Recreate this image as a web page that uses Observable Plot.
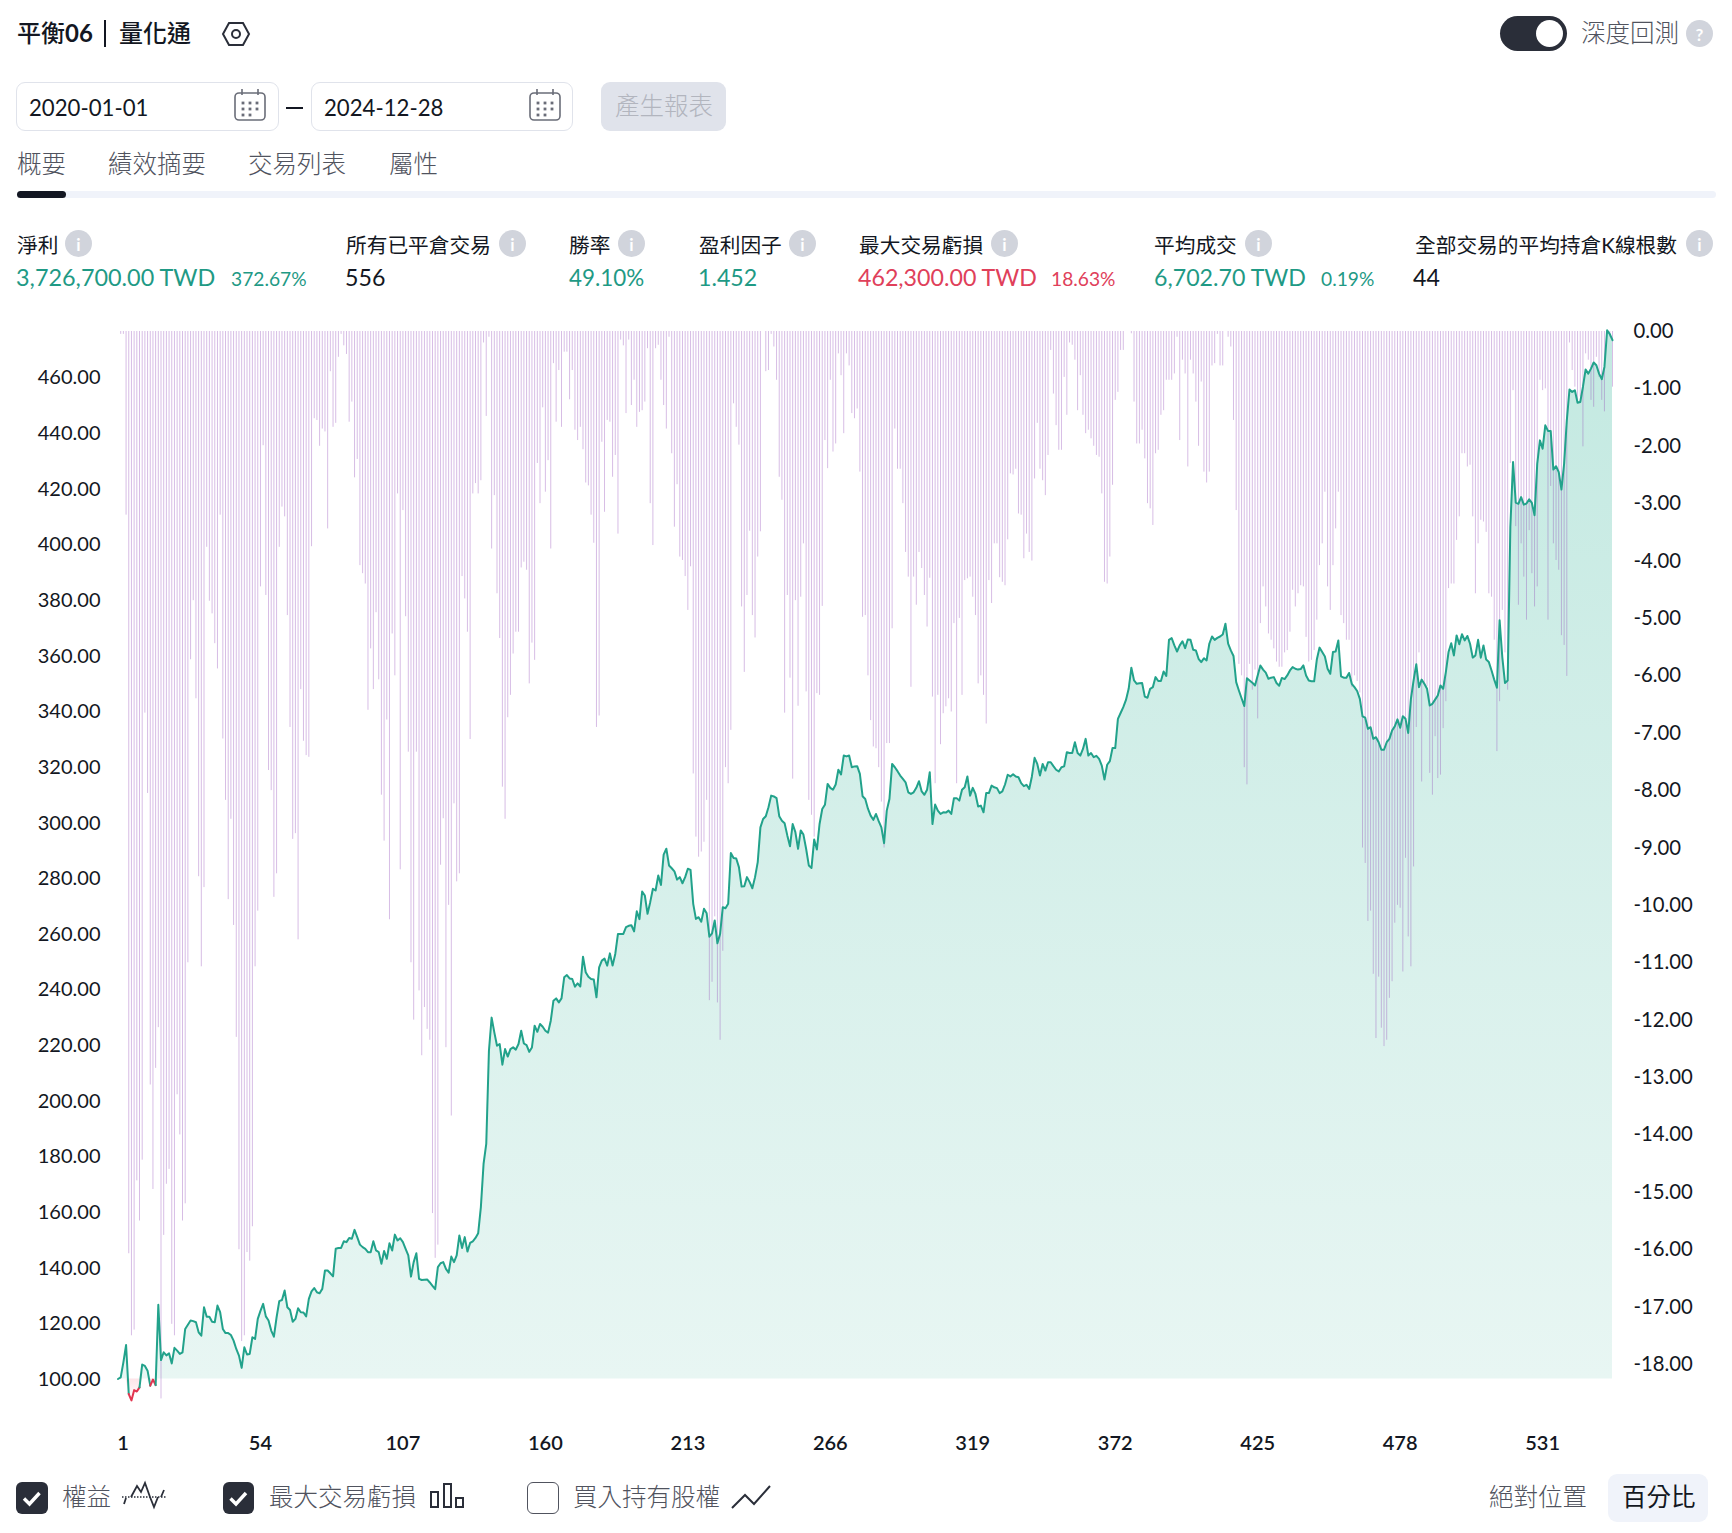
<!DOCTYPE html>
<html lang="zh-Hant">
<head>
<meta charset="utf-8">
<script src="https://cdn.jsdelivr.net/npm/d3@7"></script>
<script src="https://cdn.jsdelivr.net/npm/@observablehq/plot@0.6"></script>
<style>
html,body{margin:0;padding:0;background:#fff}
#page{position:relative;width:1732px;height:1533px;overflow:hidden;background:#fff;font-family:Lato,"Noto Sans CJK TC",sans-serif;color:#131722}
#page .t{position:absolute;white-space:nowrap;line-height:1;transform:translateY(-50%)}
#page .b{position:absolute;box-sizing:border-box}
#page svg.ic{position:absolute;overflow:visible}
#page svg.layer{position:absolute;left:0;top:300px;background:transparent;max-width:none}
</style>
</head>
<body>
<div id="page"></div>
<script>
const equity = [
100,100.6,106,112.2,94.6,92.3,96,95.5,97,105.2,
104.7,103,97.6,99.8,97.8,126.7,106.8,109.6,108.5,109.2,
105.6,111.2,110.2,109,109.6,118,119.5,121,120.8,120.4,
116.8,115.6,125.8,122.4,122.4,120.6,120.4,126.4,124,118,
116.5,116.5,115.8,113.8,110.8,108.4,104,111.4,108.8,109,
115,114.4,121.6,124.5,127,122.5,121,117.4,115.2,122.2,
128,128.4,131.8,125.8,124.8,120.6,121.6,125.4,124,123.9,
122.5,128.8,131.5,132.7,131.2,130.8,132.4,139,139,138,
136.9,146.8,147.1,147.1,149.5,149.2,150.7,150.4,153.6,151,
148.3,147.4,146.8,145.6,145.6,149.5,146.2,145.6,141.4,146,
143.2,148.8,146.2,151.9,149.8,150.6,149.2,146.8,144.4,136.8,
142,145.2,136,135.6,135.7,135.8,134.7,133.5,132.3,140.2,
141.6,142,139.6,138.2,144,142,144.4,151.6,147.1,151,
145.8,148.9,149.5,150.7,152.4,161.8,177.3,184.5,218,229.9,
224.6,219.8,220.4,213,218.6,215.9,218.6,219.2,218.4,220.4,
225.2,220.6,220,217.6,219.2,227,224.8,227.6,226.6,225.2,
224.5,228.8,236,236.8,235.4,236.8,244.4,245.2,244,243.8,
241,242.2,241.1,251.8,246.2,244.6,243.8,243.6,237.2,248,
250.4,251.1,248.6,253,248.6,252.8,260,260,260,262.4,
262.9,263.1,260.9,268.1,265.3,275.2,273.8,267.2,271.4,276.2,
275.6,281,277.6,288.5,290.6,284.6,283.6,282.5,279.5,280.4,
278.2,280.4,283.4,283,270.8,265.4,266,264.4,269,267.4,
259,260.2,264.8,256.6,260,269.6,269.2,270.8,289.1,287.3,
287.1,284,277,277.1,280.4,278.6,276.4,280.4,285.8,298.3,
301.3,302.3,305.5,309.7,309.4,308.8,302.3,300.7,299.8,295.4,
291.5,299.5,296.6,290.6,297.2,295.7,290.6,284.6,283.7,293.9,
290.3,299.5,304.9,306.4,313.9,312.5,311.8,313.7,319,317.3,
324.1,323.8,324.1,319.9,320.2,320.3,317.5,309.5,308.5,305,
302.5,301,303.1,300.5,298.3,292.6,304.3,308.5,321.1,319.9,
318.5,316.9,315.7,314.5,310.9,310.3,310.9,312.5,314.9,311.2,
310,311.8,318.1,299.5,306.5,304.3,303.1,303.7,303.6,304.3,
303.1,308.8,308.8,307.9,311.8,312.7,316.6,309.7,312.5,310.3,
305.8,306.1,303.7,310.6,310.6,313.3,312.7,312.4,310.6,311.2,
313.7,317.2,316.6,317.4,316.6,316.3,314.2,313.1,313.6,312.1,
316.6,323.3,321.1,316.9,321.1,318.7,321.7,321.7,320.3,319,
318.4,319.9,320.2,325.3,325,325,328.9,325,324.1,326.5,
330.1,324.1,325,323.5,324,322.9,320.5,315.5,320.8,322.1,
326.8,326.8,337.3,339.4,341.5,344.1,348.1,355.7,351.1,349.9,
350.1,350.2,345.3,344.9,348.1,348.7,352.3,350.9,350.9,354.3,
352.7,365.7,366.3,363.7,361.5,363.7,365.2,362.7,365.8,365.7,
362.1,361.9,358.9,357.7,359.1,358.3,364.3,366.9,365.7,366.4,
366.9,367.6,371.5,364.3,361.9,359.9,350.5,347.5,344.7,341.9,
351.9,351.1,350.3,349.3,352.9,356.5,355,353.9,351.7,352.1,
352.3,350.2,349.2,352,351.6,352.9,354.7,355.9,355.3,355,
355.2,356.5,352.9,351.1,350.8,350.8,358.6,362.9,361.3,359.7,
355.3,353.5,361.3,361.5,365.5,352.6,352.1,352.1,353.8,349.9,
348.7,347.3,344.5,338.2,337.7,333.7,334.3,330.1,330.7,328.9,
326.2,326.2,328.9,330.1,333.1,334.6,337.1,334.1,338.2,337.3,
332.2,344.5,351.1,356.9,348.7,351.4,349.9,348.1,342.1,342.7,
344.2,345.7,349.3,348.1,354.1,361.3,364.5,360.1,367.3,364.1,
367.7,365.5,367.1,364.3,359.3,360.1,365.7,359.3,363.7,358.6,
357.7,354.7,351.4,348.5,372.7,359.5,350.2,351.1,406.3,429.6,
415,414.6,417,414.3,414.7,416.2,414.9,410.5,429,437.4,
434.4,442.8,440.8,440.8,426.9,428.1,426,419.7,429,444.6,
455.7,454.8,455.4,450.9,451.2,456.6,462.9,461.4,463.2,465.4,
464.4,461.4,459.4,463.8,477,475.6,473.4];

const drawdown = [
0,-0.05,-0.05,-3.2,-16.07,-17.5,-17.4,-14.8,-15.5,-14.44,
-6.65,-8.05,-13.13,-14.95,-12.84,-12.13,-18.6,-15.75,-14.86,-14.6,
-17.3,-17.5,-13.3,-14,-15.5,-15.2,-11,-5.72,-4.69,-6.4,
-9.5,-11.07,-9.69,-3.76,-4.7,-4.92,-5.44,-5.88,-3.2,-7.1,
-8.17,-9.9,-8.5,-10.35,-12.3,-16,-17.6,-17.5,-16.05,-16.2,
-15.6,-11.07,-10.1,-4.45,-1.99,-4.6,-7.65,-8,-9.86,-9.45,
-3.76,-3.06,-3.23,-4.95,-6.9,-8.85,-8.75,-10.6,-6.24,-7.14,
-7.39,-7.42,-3.75,-1.52,-1.55,-2,-1.7,-1.75,-3.44,-0.7,
-1.67,-1.6,-0.45,-0.05,-0.25,-0.4,-1.58,-1.23,-2.55,-2.23,
-4.08,-4.22,-4.4,-6.6,-5.53,-6.24,-4.9,-6.07,-8.08,-8.88,
-6.77,-10.25,-5.27,-6,-2.83,-9.38,-3.12,-4.97,-7.33,-11,
-12,-7.33,-11.49,-12.62,-11.78,-12.16,-12.35,-15.37,-16.15,-15.92,
-9.3,-8.49,-12.48,-10,-13.67,-8.23,-9.59,-9.45,-4.27,-4.66,
-5.24,-7.11,-2.83,-2.65,-2.83,-2.6,-0.2,-1.48,-0.1,-3.79,
-2.86,-4.57,-5.35,-7.94,-8.5,-6.73,-6.34,-5.62,-5.24,-5.24,
-4.12,-4.02,-4.16,-6.14,-5.43,-5.73,-2.3,-3,-1.33,-2.8,
-2.25,-3.79,-0.56,-1.58,-0.68,-1.67,-0.36,-0.36,-1.19,-0.68,
-1.72,-1.9,-1.67,-2.06,-2.64,-2.69,-3.2,-3.69,-6.9,-6.7,
-1.93,-3.15,-1.55,-1.58,-2.54,-2.16,-3.53,-0.15,-0.25,-1.43,
-0.15,-1.29,-0.85,-1.67,-1.41,-1.38,-1.23,-0.3,-3,-3.73,
-0.3,-0.24,-0.85,-1.29,-1.7,-0.1,-2.13,-3.41,-2.67,-3.93,
-3.99,-4.27,-4.86,-4.1,-7.71,-8.81,-9.16,-9.07,-8.9,-8.17,
-11.66,-11.34,-10.2,-11.7,-12.35,-10.8,-7.6,-7.88,-6.95,-1.26,
-1.67,-1.98,-4.8,-5.94,-4.6,-3.48,-4.95,-5.34,-3.93,-3.49,
0,-0.7,-0.68,-0.05,-0.27,-0.85,-2.54,-2.94,-6.65,-4.6,
-6.04,-7.8,-4.69,-6.53,-4.63,-3.7,-6.28,-8.17,-8.43,-8.81,
-6.31,-6.34,-4.79,-1.9,-2.39,-0.85,-2.1,-1.96,-0.39,-0.77,
-1.78,-0.39,-0.6,-1.43,-1.52,-1.35,-2.45,-4.98,-4.95,-6,
-6.78,-7.24,-7.27,-7.6,-8.2,-9,-7.18,-7.18,-5.18,-1.7,
-2.4,-2.4,-3,-3.85,-4.28,-6.2,-4.28,-4.77,-3.85,-4.13,
-4.6,-5.15,-4.3,-6.37,-7.88,-6.34,-7.2,-6.66,-6.54,-6.4,
-6.63,-5.09,-7.88,-5,-6.34,-4.34,-4.31,-4.28,-4.63,-4.95,
-6.14,-6,-6.34,-6.84,-4.34,-4.74,-3.7,-3.7,-4.29,-4.37,
-4.43,-3.63,-2.48,-2.5,-2.4,-3.18,-3.2,-3.96,-3.53,-3.85,
-4,-2.57,-1.6,-2.4,-2.6,-2.86,-2.16,-0.33,-1.09,-1.64,
-2.07,-2.07,-0.8,-1.46,-0.2,-0.24,-0.5,-1.38,-0.77,-1.46,
-1.78,-1.72,-1.87,-2,-2.16,-2.19,-2.83,-4.37,-4.4,-3.93,
-2.68,-1.2,-1.06,-0.33,-0.33,0,0,-0.04,-1.23,-1.96,
-1.96,-1.72,-2.22,-3,-3.09,-3.38,-2.13,-2.07,-1.46,-1.38,
-0.85,-0.85,-0.85,-0.74,-0.1,-1.9,-0.5,-0.74,-2.36,-0.5,
-0.74,-1.23,-2,-0.88,-2.45,-2.64,-2.45,-0.6,-0.56,-0.05,
-0.6,-0.6,0,-0.1,-0.27,-1.55,-3.12,-5.8,-6,-7.6,
-7.9,-5.8,-6.25,-5.9,-6.75,-5.09,-4.45,-4.8,-5.27,-5.38,
-5.53,-5.76,-5.85,-5.85,-5.6,-5.56,-5.24,-4.51,-4.8,-4.57,
-4.43,-4.45,-5.33,-5.76,-5.73,-5.56,-5.03,-4.08,-3.7,-2.8,
-4.45,-4.86,-4.08,-3.44,-2.8,-4.95,-5.09,-5.38,-5.38,-6.2,
-6,-6.1,-6.3,-9,-9.27,-10.28,-10.1,-11.2,-12.32,-11.25,
-12.14,-12.46,-12.35,-11.62,-11.33,-10.31,-10,-10.05,-11.16,-9.18,
-10.55,-11.07,-9.33,-6.9,-5.6,-7.85,-6.16,-6.19,-7.7,-8.08,
-7.06,-7.79,-7.73,-6.92,-6.45,-4.48,-4.4,-4.4,-3.64,-3.23,
-2.13,-2.13,-2.36,-2.33,-3.23,-4.57,-3.7,-3.29,-3.32,-3.5,
-4.57,-4.63,-5.38,-7.32,-6.45,-4.86,-5.6,-6.25,-2.3,-1.03,
-3.4,-4.77,-3.7,-4.28,-5.03,-3.47,-4.22,-4.8,-4.45,-0.85,
-1.03,-1,-5.03,-2.7,-3.7,-3.99,-4.16,-5.3,-5.47,-6.01,
-0.2,-0.68,-0.97,-1.2,-1.14,-2.01,-0.39,-0.5,-1.2,-1.32,
-0.45,-0.8,-1.2,-1.4,0,-0.1,-0.97];

const tradeTicks = [54,107,160,213,266,319,372,425,478,531];
const firstTradeTick = [1];
const equityTicks = [100,120,140,160,180,200,220,240,260,280,300,320,340,360,380,400,420,440,460];
const drawdownTicks = [0,-1,-2,-3,-4,-5,-6,-7,-8,-9,-10,-11,-12,-13,-14,-15,-16,-17,-18];

const GREEN="#22a28b", RED="#e2344f", LABEL="#131722", SOFT="#50535e";
const rows = equity.map((v,i)=>({t:i+1,v,up:Math.max(v,100),down:Math.min(v,100),
  below:v<100&&(i+1>=equity.length||equity[i+1]<100)}));
const bars = drawdown.map((d,i)=>({t:i+1,d}));

const frame = {width:1732,height:1160,marginLeft:117.5,marginRight:120,
  x:{domain:[1,557],axis:null},style:{background:"transparent",fontFamily:'Lato,"Noto Sans CJK TC",sans-serif'},className:"layer"};
const eqFrame = {...frame,marginTop:77,marginBottom:81.5,y:{domain:[100,460],axis:null},color:{type:"identity"}};

function gradient(id,stops){
  return ()=>{
    const defs=d3.create("svg:defs");
    const g=defs.append("linearGradient").attr("id",id).attr("gradientTransform","rotate(90)");
    stops.forEach(([o,c])=>g.append("stop").attr("offset",o).attr("stop-color",c));
    return defs.node();
  };
}

const areaLayer = Plot.plot({...eqFrame,marks:[
  gradient("eqUp",[[0,"#c3e9e1"],[1,"#e8f6f3"]]),
  gradient("eqDown",[[0,"#fde4e8"],[1,"#ffffff"]]),
  Plot.areaY(rows,{x:"t",y1:()=>100,y2:"up",fill:"url(#eqUp)"}),
  Plot.areaY(rows,{x:"t",y1:()=>100,y2:"down",fill:"url(#eqDown)"}),
  Plot.axisY(equityTicks,{anchor:"left",label:null,tickSize:0,tickPadding:17.5,dy:0.5,fontSize:20,color:LABEL,tickFormat:d=>d.toFixed(2)}),
  Plot.axisX(tradeTicks,{label:null,tickSize:0,tickPadding:56.5,fontSize:20,fontWeight:600,color:LABEL,tickFormat:d=>String(d)}),
  Plot.axisX(firstTradeTick,{label:null,tickSize:0,tickPadding:56.5,dx:5,fontSize:20,fontWeight:600,color:LABEL,tickFormat:d=>String(d)})
]});

const barLayer = Plot.plot({...frame,marginTop:31,marginBottom:96,y:{domain:[-18,0],axis:null},marks:[
  Plot.ruleX(bars,{x:"t",y1:()=>0,y2:"d",stroke:"#9048b8",strokeOpacity:0.36,strokeWidth:1}),
  Plot.axisY(drawdownTicks,{anchor:"right",label:null,tickSize:0,tickPadding:21,fontSize:20.3,color:LABEL,tickFormat:d=>d.toFixed(2)})
]});

const lineLayer = Plot.plot({...eqFrame,marks:[
  Plot.line(rows,{x:"t",y:"v",z:null,stroke:d=>d.below?RED:GREEN,strokeWidth:2,strokeLinejoin:"round"})
]});

const page=document.getElementById("page");
[areaLayer,barLayer,lineLayer].forEach(s=>{page.appendChild(s);});

function t(text,x,y,size,color,weight){
  const e=document.createElement("div");e.className="t";e.textContent=text;
  e.style.cssText=`left:${x}px;top:${y}px;font-size:${size}px;color:${color};font-weight:${weight||400}`;
  page.appendChild(e);return e;
}
function box(x,y,w,h,css){
  const e=document.createElement("div");e.className="b";
  e.style.cssText=`left:${x}px;top:${y}px;width:${w}px;height:${h}px;${css}`;page.appendChild(e);return e;
}
function icon(x,y,w,h,inner){
  const s=document.createElementNS("http://www.w3.org/2000/svg","svg");
  s.setAttribute("class","ic");s.setAttribute("width",w);s.setAttribute("height",h);
  s.setAttribute("viewBox",`0 0 ${w} ${h}`);s.style.left=x+"px";s.style.top=y+"px";s.innerHTML=inner;page.appendChild(s);
}
function info(x,y,mark){
  box(x,y,27,27,"border-radius:50%;background:#d1d4dc");
  const e=t(mark,x+13.5,y+14,17,"#fff",700);e.style.transform="translate(-50%,-50%)";
}
function calendar(x,y){
  icon(x,y,32,32,`<rect x="1" y="4" width="30" height="27" rx="4" fill="none" stroke="#6a6d78" stroke-width="1.6"/>
  <path d="M8 0v6M24 0v6" stroke="#6a6d78" stroke-width="1.6"/>
  ${[[9,14],[16,14],[23,14],[9,20],[16,20],[23,20],[9,26],[16,26]].map(([a,b])=>`<rect x="${a-1.4}" y="${b-1.4}" width="2.8" height="2.8" fill="#6a6d78"/>`).join("")}`);
}
function check(x,y,w,on){
  box(x,y,w,32,on?"background:#2a2e39;border-radius:6px":"border:1.5px solid #50535e;border-radius:6px;background:#fff");
  if(on) icon(x,y,w,32,`<path d="M${w/2-8} 16.5l5.5 5.5 10-11" fill="none" stroke="#fff" stroke-width="3.4"/>`);
}

// header
t("平衡",17,33,24,"#131722",500);
t("06",65,33,24,"#131722",700);
box(104,20,2,27,"background:#131722");
t("量化通",119,33,24,"#131722",500);
icon(222,22,28,24,`<path d="M7 1h14l6 11-6 11H7L1 12z" fill="none" stroke="#2a2e39" stroke-width="2"/><circle cx="14" cy="12" r="4" fill="none" stroke="#2a2e39" stroke-width="2"/>`);
box(1500,16,67,35,"background:#2a2e39;border-radius:18px");
box(1536,20,27,27,"background:#fff;border-radius:50%");
t("深度回測",1581,33,24.5,SOFT,300);
info(1686,20,"?");

box(16,82,263,49,"border:1.5px solid #e0e3eb;border-radius:9px");
t("2020-01-01",29,107.5,22.2,LABEL);
calendar(234,89);
box(286,107,17,2,"background:#131722");
box(311,82,262,49,"border:1.5px solid #e0e3eb;border-radius:9px");
t("2024-12-28",324,107.5,22.2,LABEL);
calendar(529,89);
box(601,82,125,49,"background:#e0e3eb;border-radius:9px");
t("產生報表",615,106,24.5,"#b2b5be",300);

const tabs=[["概要",17],["績效摘要",108],["交易列表",248],["屬性",389]];
tabs.forEach(([s,x])=>t(s,x,163.5,24.5,SOFT,300));
box(17,191,1699,7,"background:#f0f3fa;border-radius:4px");
box(17,191,49,7,"background:#131722;border-radius:4px");

const statLabels=[["淨利",17,65],["所有已平倉交易",346,499],["勝率",569,618],["盈利因子",699,789],["最大交易虧損",859,991],["平均成交",1154,1245],["全部交易的平均持倉K線根數",1415,1686]];
statLabels.forEach(([s,x,ix])=>{t(s,x,245,20.7,"#131722");info(ix,230,"i");});
const G="#1f9a85",R="#e0405a";
t("3,726,700.00 TWD",16,278,23.4,G);t("372.67%",231,279,19.2,G);
t("556",345,278,23.2,LABEL);
t("49.10%",569,278,22.4,G);
t("1.452",698,278,23.2,G);
t("462,300.00 TWD",858,278,23.2,R);t("18.63%",1051,279,19.2,R);
t("6,702.70 TWD",1154,278,23.2,G);t("0.19%",1321,279,19.2,G);
t("44",1413,278,23.2,LABEL);

// footer legend
check(16,1482,32,true);
t("權益",62,1497,24.5,SOFT,300);
icon(122,1482,44,28,`<path d="M0 15H44" stroke="#2a2e39" stroke-width="1.6" stroke-dasharray="1.5 1.5"/><path d="M2 22l2-6M9 15l6-11 4 6 4-9 5 14M28 15l4 10 4-10M39 15l3-7" fill="none" stroke="#2a2e39" stroke-width="1.8"/>`);
check(223,1482,31,true);
t("最大交易虧損",269,1497,24.5,SOFT,300);
icon(430,1483,34,25,`<rect x="1" y="9" width="7" height="15" fill="none" stroke="#2a2e39" stroke-width="2"/><rect x="14" y="1" width="7" height="23" fill="none" stroke="#2a2e39" stroke-width="2"/><rect x="26" y="15" width="7" height="9" fill="none" stroke="#2a2e39" stroke-width="2"/>`);
check(527,1482,32,false);
t("買入持有股權",573,1497,24.5,SOFT,300);
icon(731,1484,40,25,`<path d="M1 24L14 11l9 9L39 2" fill="none" stroke="#2a2e39" stroke-width="2"/>`);
t("絕對位置",1489,1497,24.5,SOFT,300);
box(1608,1474,100,48,"background:#f0f3fa;border-radius:9px");
t("百分比",1622,1497,24.5,"#131722",400);
</script>
</body>
</html>
